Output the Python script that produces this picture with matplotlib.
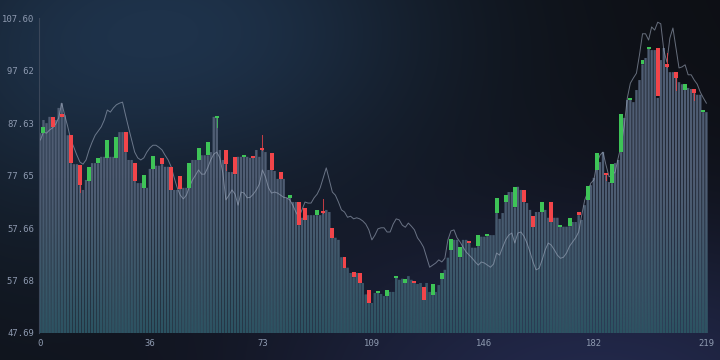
import numpy as np
import matplotlib
matplotlib.use("Agg")
import matplotlib.pyplot as plt
from matplotlib.path import Path
from matplotlib.patches import PathPatch

# ---------------- data ----------------
bar_values = [
    85.7, 88.2, 87.6, 88.8, 86.9, 88.2, 90.5, 91.4, 89.1, 85.3,
    80.0, 79.8, 79.8, 75.8, 74.9, 76.8, 76.6, 80.0, 80.0, 80.0,
    81.2, 81.2, 81.0, 81.2, 81.2, 81.0, 85.9, 85.9, 82.1, 80.6,
    80.6, 76.6, 76.2, 76.2, 75.3, 75.3, 78.9, 78.9, 79.5, 79.5,
    79.8, 79.3, 79.3, 74.9, 74.9, 74.9, 75.1, 75.3, 75.3, 75.3,
    80.6, 80.6, 80.6, 81.5, 81.5, 81.5, 82.1, 88.8, 88.6, 82.5,
    80.6, 79.8, 78.3, 78.3, 77.9, 81.2, 81.2, 81.2, 81.2, 81.0,
    81.0, 82.5, 81.2, 82.5, 82.1, 78.7, 78.7, 78.5, 77.0, 77.0,
    77.0, 73.4, 73.4, 72.6, 72.6, 68.2, 69.6, 69.2, 70.1, 70.1,
    70.1, 70.1, 70.1, 70.5, 71.1, 70.7, 65.8, 65.8, 65.4, 62.1,
    60.1, 60.1, 59.1, 58.3, 59.1, 57.2, 57.2, 55.0, 53.4, 53.4,
    55.3, 55.3, 55.1, 54.7, 54.7, 55.5, 55.5, 58.2, 57.8, 58.0,
    57.2, 58.5, 57.8, 57.4, 57.0, 57.2, 54.0, 57.2, 55.5, 54.9,
    55.5, 56.8, 58.0, 59.7, 62.0, 63.5, 65.4, 65.4, 62.1, 65.4,
    65.4, 64.8, 63.9, 63.9, 64.2, 66.0, 66.0, 66.1, 66.3, 66.3,
    70.5, 69.4, 70.5, 72.6, 74.5, 74.5, 71.6, 75.5, 74.9, 72.6,
    72.4, 71.1, 67.9, 70.7, 70.7, 70.7, 71.1, 69.6, 68.8, 69.6,
    69.6, 67.9, 67.9, 67.9, 68.0, 68.8, 68.8, 70.1, 69.2, 72.0,
    73.0, 75.8, 77.2, 78.7, 80.2, 82.1, 77.7, 76.4, 76.2, 80.0,
    80.6, 82.1, 88.6, 92.0, 92.0, 91.6, 93.9, 95.8, 98.8, 100.0,
    101.7, 101.5, 101.5, 92.4, 99.6, 101.9, 98.3, 97.3, 97.3, 96.2,
    95.4, 95.0, 93.9, 94.3, 94.1, 93.3, 93.0, 93.0, 89.7, 89.7,
]

line_values = [
    84.4, 85.9, 85.7, 86.3, 86.7, 87.4, 88.6, 91.4, 89.1, 86.9,
    84.4, 83.0, 81.5, 80.2, 79.8, 80.6, 82.5, 84.0, 85.3, 86.1,
    86.9, 88.2, 90.1, 89.7, 90.5, 91.1, 91.4, 91.6, 89.1, 86.7,
    84.4, 82.1, 81.0, 80.6, 81.0, 82.1, 82.9, 83.4, 83.4, 83.0,
    82.5, 81.5, 80.6, 79.3, 77.2, 75.3, 73.9, 73.2, 73.9, 75.5,
    76.8, 77.7, 78.7, 77.9, 77.9, 79.1, 80.6, 81.7, 82.1, 81.0,
    78.1, 73.0, 73.9, 74.9, 74.1, 72.0, 74.5, 74.3, 73.4, 73.5,
    74.1, 74.9, 76.0, 78.7, 77.4, 75.3, 74.3, 74.5, 74.3, 73.9,
    73.5, 73.4, 73.0, 72.0, 70.7, 69.7, 71.1, 72.6, 72.4, 72.4,
    73.4, 74.1, 75.3, 77.2, 79.1, 76.8, 74.5, 73.9, 72.6, 71.1,
    70.7, 69.7, 69.9, 69.4, 69.6, 69.4, 69.0, 68.4, 67.3, 65.4,
    66.3, 67.5, 67.7, 67.7, 66.9, 66.9, 68.4, 69.4, 69.2, 68.2,
    67.8, 68.6, 68.0, 67.3, 65.8, 65.0, 64.0, 62.1, 60.2, 60.6,
    61.0, 61.6, 61.2, 61.9, 65.4, 67.1, 67.3, 65.8, 65.0, 64.0,
    63.1, 62.5, 61.9, 61.2, 60.6, 61.2, 61.0, 60.6, 60.2, 60.8,
    62.9, 62.5, 64.0, 65.4, 66.3, 66.7, 64.8, 66.7, 66.9, 66.1,
    64.8, 63.1, 61.2, 59.7, 60.0, 61.6, 63.5, 64.8, 64.4, 63.5,
    62.5, 61.9, 62.1, 62.9, 64.2, 65.0, 65.8, 66.9, 70.1, 73.0,
    74.5, 76.2, 76.8, 80.0, 81.5, 82.1, 79.6, 77.4, 77.7, 78.3,
    81.0, 83.4, 87.2, 92.4, 95.2, 96.2, 97.1, 100.6, 104.6, 104.6,
    103.4, 105.9, 105.3, 106.8, 106.5, 101.5, 99.2, 103.8, 105.7, 101.9,
    98.1, 98.3, 98.7, 96.8, 96.8, 95.8, 95.0, 93.5, 92.4, 91.4,
]

candle_index = [1, 4, 7, 10, 13, 16, 19, 22, 25, 28, 31, 34, 37, 40, 43, 46, 49,
                52, 55, 58, 61, 64, 67, 70, 73, 76, 79, 82, 85, 87, 91, 93, 96,
                100, 103, 105, 108, 111, 114, 117, 120, 123, 126, 129, 132, 135,
                138, 141, 144, 147, 150, 153, 156, 159, 162, 165, 168, 171, 174,
                177, 180, 183, 186, 188, 191, 194, 198, 200, 203, 206, 209, 212,
                215, 218]
candle_open = [85.7, 88.8, 89.3, 85.3, 79.6, 76.6, 80.0, 81.0, 81.0, 85.9, 80.0,
               75.3, 78.9, 81.0, 79.3, 77.5, 75.3, 80.6, 81.5, 88.6, 82.5, 81.2,
               81.2, 81.4, 82.9, 81.9, 78.3, 73.4, 72.6, 71.5, 70.1, 70.7, 67.7,
               62.1, 59.3, 59.1, 55.9, 55.3, 54.7, 58.2, 57.2, 57.6, 56.4, 54.9,
               58.0, 63.5, 62.1, 65.0, 64.2, 66.1, 70.5, 72.6, 71.6, 74.9, 69.9,
               70.7, 72.6, 67.9, 68.0, 70.7, 73.0, 78.7, 78.1, 76.2, 82.1, 92.0,
               98.8, 101.7, 101.9, 98.8, 97.3, 93.9, 94.1, 89.7]
candle_close = [86.9, 86.9, 88.8, 80.0, 75.8, 79.3, 81.0, 84.4, 85.0, 82.1, 76.6,
                77.7, 81.4, 79.8, 74.9, 75.1, 80.0, 82.9, 84.0, 89.0, 79.8, 77.9,
                81.5, 81.0, 82.5, 78.7, 77.0, 73.9, 68.2, 69.2, 71.1, 70.5, 65.8,
                60.1, 58.3, 57.2, 53.4, 55.7, 55.9, 58.5, 58.0, 57.2, 54.0, 57.0,
                59.1, 65.6, 64.0, 64.8, 66.3, 66.5, 73.4, 73.9, 75.5, 72.6, 67.9,
                72.6, 68.8, 68.2, 69.6, 70.1, 75.6, 82.0, 77.7, 79.8, 89.3, 92.4,
                99.6, 101.9, 92.8, 98.3, 96.2, 95.0, 93.3, 90.1]

wick_index = [13, 58, 61, 73, 93, 186, 206, 209, 215]
wick_high = [79.6, 89.0, 82.5, 85.3, 73.2, 78.1, 100.9, 97.3, 94.1]
wick_low = [74.5, 86.9, 78.7, 82.5, 70.5, 76.8, 98.3, 93.9, 92.0]

y_tick_values = [47.69, 57.68, 67.66, 77.65, 87.63, 97.62, 107.60]
y_tick_labels = ["47.69", "57 68", "57.66", "77 65", "87.63", "97 62", "107.60"]
x_tick_values = [0, 36, 73, 109, 146, 182, 219]

# ---------------- style ----------------
Y_MIN, Y_MAX = 47.69, 107.60
GREEN = "#3ec457"
RED = "#f2454a"
BAR_TOP = "#4f5d73"
TEAL = np.array([0x27, 0x52, 0x60]) / 255.0
TICK_COLOR = "#8e9ab0"

W, H = 720, 360
fig = plt.figure(figsize=(7.2, 3.6), dpi=100)

# background gradient
bg = fig.add_axes([0, 0, 1, 1])
bg.axis("off")
yy, xx = np.mgrid[0:H, 0:W].astype(float)
base = np.array([13, 15, 20]) / 255.0
img = np.ones((H, W, 3)) * base


def glow(cx, cy, rx, ry, col, amt=1.0):
    d = ((xx - cx) / rx) ** 2 + ((yy - cy) / ry) ** 2
    w = np.exp(-d) * amt
    return w[..., None] * (np.array(col) / 255.0 - base)


img += glow(170, 30, 280, 170, (30, 50, 74), 1.0)
img += glow(600, 390, 360, 170, (34, 40, 74), 1.0)
img += glow(0, 200, 120, 200, (20, 30, 42), 0.5)
img = np.clip(img, 0, 1)
bg.imshow(img, extent=(0, 1, 0, 1), aspect="auto", origin="upper")
bg.set_xlim(0, 1)
bg.set_ylim(0, 1)

# main axes
left_px, right_px = 38.9, 707.9
ax = fig.add_axes([left_px / W, 27 / H, (right_px - left_px) / W, 315 / H])
ax.set_facecolor("none")

x = np.arange(len(bar_values))
bars = np.array(bar_values)
rects = ax.bar(x, bars - Y_MIN, bottom=Y_MIN, width=0.78, color=BAR_TOP,
               linewidth=0, zorder=2)
for r in rects:
    r.set_snap(False)

# teal gradient toward the bottom of the bars, clipped to bars
verts, codes = [], []
for r in rects:
    x0, y0, w, h = r.get_x(), r.get_y(), r.get_width(), r.get_height()
    verts += [(x0, y0), (x0 + w, y0), (x0 + w, y0 + h), (x0, y0 + h), (x0, y0)]
    codes += [Path.MOVETO, Path.LINETO, Path.LINETO, Path.LINETO, Path.CLOSEPOLY]
clip = PathPatch(Path(verts, codes), transform=ax.transData,
                 facecolor="none", edgecolor="none")
ax.add_patch(clip)
t = np.linspace(0, 1, 256)[:, None]
grad = np.zeros((256, 2, 4))
grad[..., :3] = TEAL
grad[..., 3] = (np.clip(1 - t / 0.5, 0, 1) ** 1.3) * 0.9
im = ax.imshow(grad, extent=(-0.5, len(bars) - 0.5, Y_MIN, Y_MAX),
               aspect="auto", origin="lower", zorder=2.1, interpolation="bilinear")
im.set_clip_path(clip)

# line
ax.plot(x, line_values, color="#a2adc0", lw=0.7, alpha=0.6, zorder=3)

# wicks
for i, hi, lo in zip(wick_index, wick_high, wick_low):
    k = candle_index.index(i)
    col = GREEN if candle_close[k] >= candle_open[k] else RED
    ax.plot([i, i], [lo, hi], color=col, lw=0.7, alpha=0.8, zorder=3.5)

# candles
for i, o, c in zip(candle_index, candle_open, candle_close):
    col = GREEN if c >= o else RED
    lo = min(o, c)
    h = max(abs(c - o), 0.4)
    ax.bar(i, h, bottom=lo, width=1.3, color=col, linewidth=0, zorder=4)

ax.set_xlim(-0.5, len(bars) - 0.5)
ax.set_ylim(Y_MIN, Y_MAX)
ax.set_yticks(y_tick_values)
ax.set_yticklabels(y_tick_labels)
ax.set_xticks(x_tick_values)
ax.set_xticklabels([str(v) for v in x_tick_values])
ax.tick_params(axis="both", length=0, colors=TICK_COLOR, labelsize=6.4)
ax.tick_params(axis="y", pad=3.5)
ax.tick_params(axis="x", pad=4)
for lab in ax.get_xticklabels() + ax.get_yticklabels():
    lab.set_fontfamily("DejaVu Sans Mono")
for s in ["top", "right", "bottom"]:
    ax.spines[s].set_visible(False)
ax.spines["left"].set_color("#3a4659")
ax.spines["left"].set_linewidth(0.8)
ax.spines["left"].set_zorder(5)

fig.savefig("out.png", dpi=100)
